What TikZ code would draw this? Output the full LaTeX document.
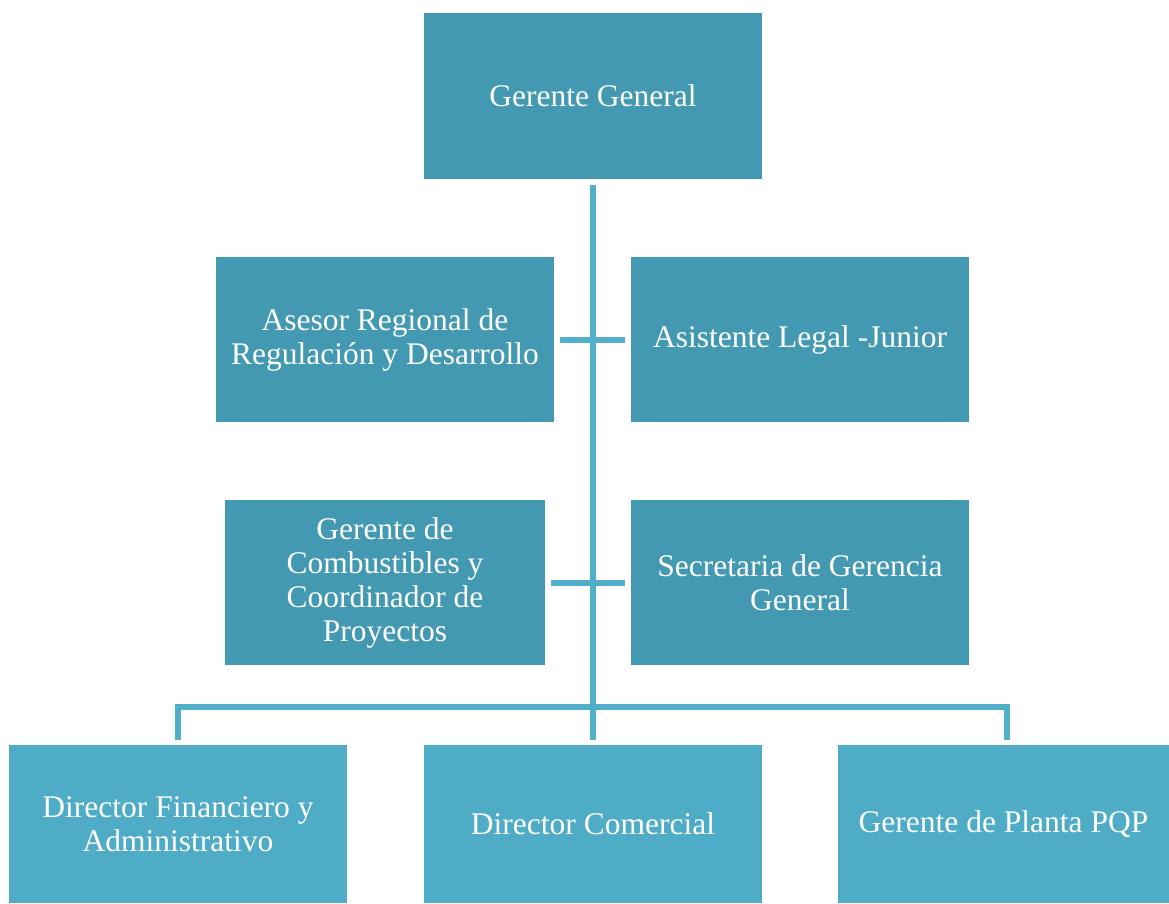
\documentclass[tikz,border=0pt]{standalone}
\usepackage{fontspec}
\setmainfont{Liberation Serif}
\usetikzlibrary{positioning}
\definecolor{boxdark}{HTML}{4399B2}
\definecolor{boxlight}{HTML}{4FACC6}
\definecolor{linkc}{HTML}{52AFC9}
\begin{document}
\begin{tikzpicture}[x=1pt,y=-1pt,
  box/.style={fill=#1, draw=none, text=white, align=center,
    font=\fontsize{31.5}{34}\selectfont, inner sep=0pt},
  conn/.style={draw=linkc, line width=6pt, line join=miter}]
\useasboundingbox (0,0) rectangle (1169,903);
% top level
\node[box=boxdark, minimum width=338pt, minimum height=166pt] (gg) at (593,96) {Gerente General};
% staff positions
\node[box=boxdark, minimum width=338pt, minimum height=165pt] (ase) at (385,339.5) {Asesor Regional de\\Regulación y Desarrollo};
\node[box=boxdark, minimum width=338pt, minimum height=165pt] (asi) at (800,339.5) {Asistente Legal -Junior};
\node[box=boxdark, minimum width=320pt, minimum height=165pt] (gc) at (385,582.5) {Gerente de\\Combustibles y\\Coordinador de\\Proyectos};
\node[box=boxdark, minimum width=338pt, minimum height=165pt] (sec) at (800,582.5) {Secretaria de Gerencia\\General};
% line positions
\node[box=boxlight, minimum width=338pt, minimum height=158pt] (dfa) at (178,824) {Director Financiero y\\Administrativo};
\node[box=boxlight, minimum width=338pt, minimum height=158pt] (dco) at (593,824) {Director Comercial};
\node[box=boxlight, minimum width=331pt, minimum height=158pt] (gpp) at (1003.5,824) {Gerente de Planta PQP};
% connectors
\coordinate (bus) at (593,707);
\draw[conn, shorten <=6pt, shorten >=5pt] (gg.south) -- (dco.north);
\draw[conn, shorten <=6pt, shorten >=6pt] (ase.east) -- (asi.west);
\draw[conn, shorten <=6pt, shorten >=6pt] (gc.east |- sec.west) -- (sec.west);
\draw[conn, shorten <=5pt, shorten >=5pt] (dfa.north) |- (bus) -| ([xshift=3.5pt]gpp.north);
\end{tikzpicture}
\end{document}
